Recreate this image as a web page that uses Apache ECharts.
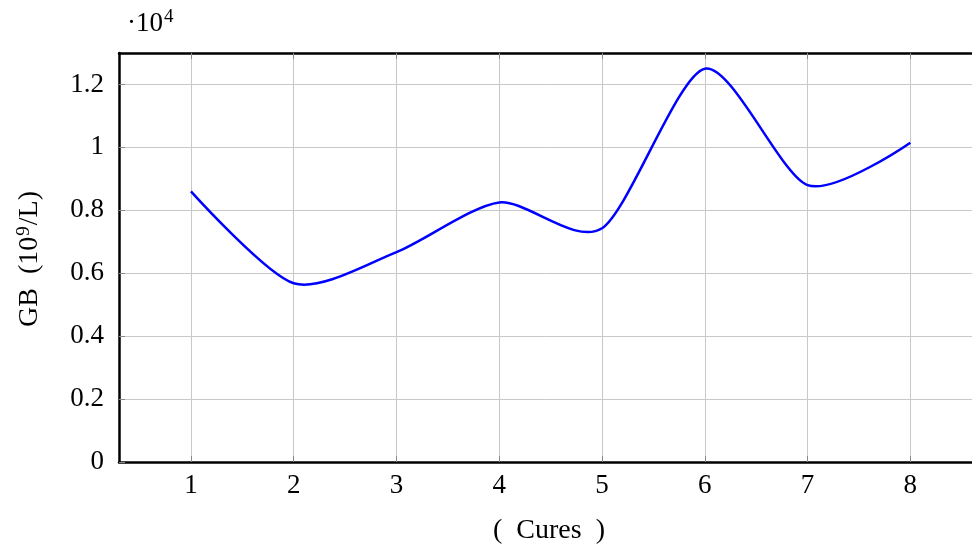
<html>
<head>
    <meta charset='UTF-8'>
    <script src='https://cdn.jsdelivr.net/npm/echarts@6/dist/echarts.min.js'></script>
    <style>
        body { margin: 0; background: #fff; }
        #chart { width: 972px; height: 549px; }
    </style>
</head>
<body>
    <div id="chart"></div>
    <script>
        // data
        const cures = [1, 2, 3, 4, 5, 6, 7, 8]
        const gbValues = [8600, 5680, 6670, 8250, 7430, 12500, 8800, 10150]
        const xTicks = [1, 2, 3, 4, 5, 6, 7, 8]
        const yTicks = [0, 2000, 4000, 6000, 8000, 10000, 12000]

        const font = '"Liberation Serif", "DejaVu Serif", serif'
        const points = cures.map((c, i) => [c, gbValues[i]])

        const tickStyle = { show: true, inside: true, length: 6, lineStyle: { color: '#8a8a8a', width: 1 } }
        const axisLineStyle = { show: true, lineStyle: { color: '#000', width: 2.5 } }

        // tikz-like "smooth" curve built on pixel coords from the axes
        const tension = 0.13
        function smoothPath(p) {
            let d = 'M' + p[0][0] + ' ' + p[0][1]
            for (let i = 0; i < p.length - 1; i++) {
                const a = p[i], b = p[i + 1]
                const prev = p[i - 1] || a, next = p[i + 2] || b
                const c1 = [a[0] + tension * (b[0] - prev[0]), a[1] + tension * (b[1] - prev[1])]
                const c2 = [b[0] - tension * (next[0] - a[0]), b[1] - tension * (next[1] - a[1])]
                if (i === 0) { c1[0] = a[0]; c1[1] = a[1] }
                if (i === p.length - 2) { c2[0] = b[0]; c2[1] = b[1] }
                d += ' C' + c1.join(' ') + ' ' + c2.join(' ') + ' ' + b.join(' ')
            }
            return d
        }

        const myChart = echarts.init(document.getElementById('chart'))
        myChart.setOption({
            animation: false,
            grid: { left: 119, right: 0, top: 53, bottom: 87 },
            xAxis: [{
                type: 'value', min: 0.3, max: 8.6, position: 'bottom',
                axisLine: axisLineStyle,
                axisTick: Object.assign({ customValues: xTicks }, tickStyle),
                axisLabel: { customValues: xTicks, fontFamily: font, fontSize: 27, color: '#000', margin: 10 },
                splitLine: { show: true, lineStyle: { color: '#c8c8c8', width: 1 } }
            }, {
                type: 'value', min: 0.3, max: 8.6, position: 'top',
                axisLine: axisLineStyle,
                axisTick: Object.assign({ customValues: xTicks }, tickStyle),
                axisLabel: { show: false },
                splitLine: { show: false }
            }],
            yAxis: {
                type: 'value', min: 0, max: 13000,
                axisLine: axisLineStyle,
                axisTick: Object.assign({ customValues: yTicks }, tickStyle),
                axisLabel: {
                    customValues: yTicks, fontFamily: font, fontSize: 27, color: '#000', margin: 15,
                    formatter: v => String(v / 10000)
                },
                splitLine: { show: true, lineStyle: { color: '#c8c8c8', width: 1 } }
            },
            graphic: [
                {
                    type: 'text', left: 127, top: 8,
                    style: {
                        text: '·10{s|4}', font: '27px ' + font, fill: '#000',
                        rich: { s: { fontSize: 19, fontFamily: font, padding: [0, 0, 12, 1] } }
                    }
                },
                { type: 'text', x: 549, y: 531, style: { text: '(  Cures  )', font: '28px ' + font, fill: '#000', align: 'center', verticalAlign: 'middle' } },
                {
                    type: 'text', x: 30, y: 259, rotation: Math.PI / 2,
                    style: {
                        text: 'GB  (10{s|9}/L)', font: '28px ' + font, fill: '#000', align: 'center', verticalAlign: 'middle',
                        rich: { s: { fontSize: 19, fontFamily: font, padding: [0, 1, 12, 1] } }
                    }
                }
            ],
            series: [{
                type: 'custom',
                data: points,
                encode: { x: 0, y: 1 },
                renderItem: function (params, api) {
                    if (params.dataIndex !== 0) return
                    const px = cures.map((c, i) => api.coord([c, gbValues[i]]))
                    return {
                        type: 'path',
                        shape: { pathData: smoothPath(px) },
                        style: { stroke: '#0000ff', lineWidth: 2.5, fill: 'none' }
                    }
                }
            }]
        })
    </script>
</body>
</html>
